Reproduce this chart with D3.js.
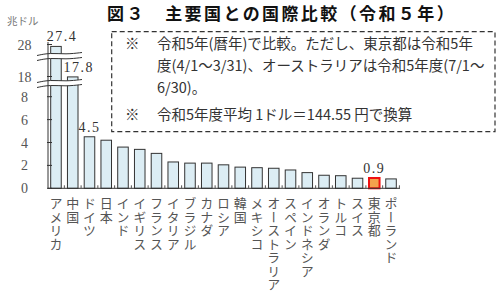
<!DOCTYPE html>
<html>
<head>
<meta charset="utf-8">
<script src="https://cdn.jsdelivr.net/npm/d3@7"></script>
<style>
body { margin: 0; background: #fff; }
text { font-family: "Noto Sans CJK JP", sans-serif; }
.num { font-family: "Liberation Serif", "DejaVu Serif", serif; }
</style>
</head>
<body>
<div id="chart"></div>
<script>
// data (trillion USD, 令和5年)
var countries = ["アメリカ", "中国", "ドイツ", "日本", "インド", "イギリス", "フランス", "イタリア", "ブラジル", "カナダ", "ロシア",
    "韓国", "メキシコ", "オーストラリア", "スペイン", "インドネシア", "オランダ", "トルコ", "スイス", "東京都", "ポーランド"];
var gdp = [27.4, 17.8, 4.5, 4.2, 3.6, 3.4, 3.05, 2.3, 2.2, 2.2, 2.05, 1.85, 1.8, 1.75, 1.6, 1.37, 1.14, 1.1, 0.88, 0.9, 0.82];
var labelled = ["アメリカ", "中国", "ドイツ", "東京都"];
var highlight = "東京都";
var yTicks = [0, 2, 4, 6, 8, 18, 28];
var title = "図３　主要国との国際比較（令和５年）";
var unit = "兆ドル";
var notes = [
    {mark: "※", text: "令和5年(暦年)で比較。ただし、東京都は令和5年"},
    {mark: "", text: "度(4/1〜3/31)、オーストラリアは令和5年度(7/1〜"},
    {mark: "", text: "6/30)。"},
    {mark: "※", text: "令和5年度平均 1ドル＝144.55 円で換算"}
];

var w = 500, h = 298;
var base = 188.3;

var svg = d3.select("#chart").append("svg")
    .attr("width", w)
    .attr("height", h);

var data = countries.map(function(c, i) {
    return {name: c, value: gdp[i]};
});

var x = d3.scaleBand()
    .domain(countries)
    .range([47.6, 399.4])
    .paddingInner(0.37)
    .paddingOuter(0.185);

// broken axis: 0-8 linear, then compressed 8-18 and 18-28
var y = d3.scaleLinear()
    .domain([0, 8, 18, 28])
    .range([base, 96.7, 76.5, 44.5]);

// title
svg.append("text")
    .attr("x", 107)
    .attr("y", 20)
    .attr("font-size", "17px")
    .attr("font-weight", "bold")
    .attr("letter-spacing", "2.4px")
    .attr("fill", "#111")
    .text(title);

svg.append("text")
    .attr("x", 7)
    .attr("y", 25)
    .attr("font-size", "10.5px")
    .attr("fill", "#777")
    .text(unit);

// bars
svg.selectAll("rect.bar")
    .data(data)
    .enter()
    .append("rect")
    .attr("class", "bar")
    .attr("x", function(d) { return x(d.name); })
    .attr("y", function(d) { return y(d.value); })
    .attr("width", x.bandwidth())
    .attr("height", function(d) { return base - y(d.value); })
    .attr("fill", function(d) { return d.name == highlight ? "#f4a24c" : "#dcedf4"; })
    .attr("stroke", function(d) { return d.name == highlight ? "#f01010" : "#333"; })
    .attr("stroke-width", function(d) { return d.name == highlight ? 2 : 1; });

// break marks (white gap with wavy edges)
function wave(y0) {
    return [[37, y0 + 1.5], [50, y0 - 1.2], [66, y0 + 0.4], [82, y0 - 1.5]];
}
var line = d3.line().curve(d3.curveBasis);
[y.invert(56.5), y.invert(83.5)].forEach(function(v) {
    var yc = y(v);
    var top = wave(yc - 2.5), bot = wave(yc + 2.5);
    svg.append("path")
        .attr("d", line(top) + "L" + line(bot.slice().reverse()).slice(1) + "Z")
        .attr("fill", "#fff")
        .attr("stroke", "none");
    [top, bot].forEach(function(p) {
        svg.append("path")
            .attr("d", line(p))
            .attr("fill", "none")
            .attr("stroke", "#333")
            .attr("stroke-width", 1);
    });
});

// y axis
svg.append("line")
    .attr("x1", 48).attr("x2", 48)
    .attr("y1", 42).attr("y2", base)
    .attr("stroke", "#333");

svg.selectAll("line.ytick")
    .data(yTicks)
    .enter()
    .append("line")
    .attr("x1", 47).attr("x2", 52)
    .attr("y1", function(d) { return y(d); })
    .attr("y2", function(d) { return y(d); })
    .attr("stroke", "#333");

svg.selectAll("text.ytick")
    .data(yTicks)
    .enter()
    .append("text")
    .attr("class", "num")
    .attr("x", 24.5)
    .attr("y", function(d) { return y(d) + 5; })
    .attr("text-anchor", "middle")
    .attr("font-size", "14px")
    .attr("fill", "#555")
    .text(function(d) { return d; });

// x axis
svg.append("line")
    .attr("x1", 48).attr("x2", 400)
    .attr("y1", base).attr("y2", base)
    .attr("stroke", "#333");

svg.selectAll("line.xtick")
    .data(countries)
    .enter()
    .append("line")
    .attr("x1", function(d) { return x(d) + x.bandwidth() + x.step() * x.paddingInner() / 2; })
    .attr("x2", function(d) { return x(d) + x.bandwidth() + x.step() * x.paddingInner() / 2; })
    .attr("y1", base).attr("y2", base - 3)
    .attr("stroke", "#555");

// value labels
svg.selectAll("text.val")
    .data(data.filter(function(d) { return labelled.indexOf(d.name) >= 0; }))
    .enter()
    .append("text")
    .attr("class", "num")
    .attr("x", function(d) { return x(d.name) + x.bandwidth() / 2 + (d.value > 10 ? 6 : 0); })
    .attr("y", function(d) { return y(d.value) - 5; })
    .attr("text-anchor", "middle")
    .attr("font-size", "14px")
    .attr("letter-spacing", "1.5px")
    .attr("fill", "#333")
    .text(function(d) { return d3.format(".1f")(d.value); });

// category labels (vertical)
svg.selectAll("text.cat")
    .data(countries)
    .enter()
    .append("text")
    .attr("x", function(d) { return x(d) + x.bandwidth() / 2; })
    .attr("y", 197)
    .attr("font-size", "13px")
    .attr("letter-spacing", "0.5px")
    .attr("fill", "#555")
    .style("writing-mode", "vertical-rl")
    .text(function(d) { return d; });

// note box
svg.append("rect")
    .attr("x", 111.7)
    .attr("y", 31.7)
    .attr("width", 383.3)
    .attr("height", 100)
    .attr("fill", "#fff")
    .attr("stroke", "#333")
    .attr("stroke-width", 1.2)
    .attr("stroke-dasharray", "5,3");

var noteY = [49, 71, 93, 120];
notes.forEach(function(n, i) {
    svg.append("text")
        .attr("x", 125)
        .attr("y", noteY[i])
        .attr("font-size", "14.5px")
        .attr("fill", "#333")
        .text(n.mark);
    svg.append("text")
        .attr("x", 157)
        .attr("y", noteY[i])
        .attr("font-size", "14.5px")
        .attr("fill", "#333")
        .text(n.text);
});
</script>
</body>
</html>
